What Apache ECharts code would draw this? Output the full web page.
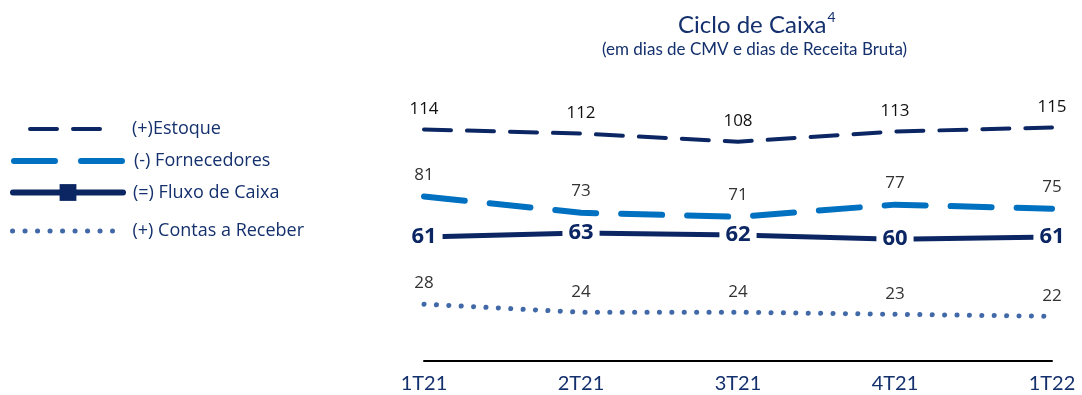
<!DOCTYPE html>
<html>
<head>
<meta charset="utf-8">
<script src="https://cdn.jsdelivr.net/npm/echarts@6/dist/echarts.min.js"></script>
<style>
  html, body { margin: 0; padding: 0; background: #fff; }
  #chart { width: 1082px; height: 395px; }
</style>
</head>
<body>
<div id="chart"></div>
<script>
// Quarterly cash-cycle components (days)
const categories = ['1T21', '2T21', '3T21', '4T21', '1T22'];
const estoque = [114, 112, 108, 113, 115];
const fornecedores = [81, 73, 71, 77, 75];
const fluxoCaixa = [61, 63, 62, 60, 61];
const contasReceber = [28, 24, 24, 23, 22];

const seriesNames = ['(+)Estoque', '(-) Fornecedores', '(=) Fluxo de Caixa', '(+) Contas a Receber'];

const NAVY = '#0B2663';
const BLUE = '#0070C0';
const STEEL = '#4169A8';
const TEXT_NAVY = '#14306D';

const chart = echarts.init(document.getElementById('chart'), null, { renderer: 'canvas' });

const legendText = (pad) => ({
  fontFamily: 'Open Sans', fontSize: 18, color: TEXT_NAVY, padding: [0, 0, 0, pad]
});

chart.setOption({
  animation: false,
  backgroundColor: '#fff',
  title: [
    {
      text: '{t|Ciclo de Caixa}{s|4}',
      left: 678, top: 10, padding: 0,
      textStyle: {
        fontWeight: 'normal',
        rich: {
          t: { fontFamily: 'Lato', fontSize: 24, fontWeight: 'normal', color: TEXT_NAVY, lineHeight: 30 },
          s: { fontFamily: 'Lato', fontSize: 14, fontWeight: 'normal', color: TEXT_NAVY, verticalAlign: 'top', lineHeight: 30, padding: [0, 0, 12, 1] }
        }
      }
    },
    {
      text: '(em dias de CMV e dias de Receita Bruta)',
      left: 602, top: 41, padding: 0,
      textStyle: { fontFamily: 'Lato', fontSize: 17, fontWeight: 'normal', color: TEXT_NAVY }
    }
  ],
  legend: [
    {
      data: [seriesNames[0]], selectedMode: false, orient: 'vertical',
      left: 28, top: 120, padding: 0, itemWidth: 74, itemHeight: 14,
      textStyle: legendText(23),
      itemStyle: { opacity: 0, borderWidth: 0 },
      lineStyle: { color: NAVY, width: 4, type: [27, 16], cap: 'round' }
    },
    {
      data: [seriesNames[1]], selectedMode: false, orient: 'vertical',
      left: 11, top: 152, padding: 0, itemWidth: 108, itemHeight: 14,
      textStyle: legendText(7),
      itemStyle: { opacity: 0, borderWidth: 0 },
      lineStyle: { color: BLUE, width: 6, type: [41, 26], cap: 'round' }
    },
    {
      data: [seriesNames[2]], selectedMode: false, orient: 'vertical',
      left: 10, top: 183.5, padding: 0, itemWidth: 110, itemHeight: 21,
      textStyle: legendText(5),
      itemStyle: { color: NAVY, opacity: 1, borderWidth: 0 },
      lineStyle: { color: NAVY, width: 6, type: 'solid', cap: 'round' }
    },
    {
      data: [seriesNames[3]], selectedMode: false, orient: 'vertical',
      left: 10, top: 222, padding: 0, itemWidth: 100, itemHeight: 14,
      textStyle: legendText(15),
      itemStyle: { opacity: 0, borderWidth: 0 },
      lineStyle: { color: STEEL, width: 5, type: [0.1, 12.4], cap: 'round' }
    }
  ],
  grid: { left: 424, right: 30, top: 97, bottom: 34 },
  xAxis: {
    type: 'category',
    data: categories,
    boundaryGap: false,
    axisLine: { show: true, lineStyle: { color: '#000', width: 2 } },
    axisTick: { show: false },
    axisLabel: { fontFamily: 'Lato', fontSize: 20, color: TEXT_NAVY, margin: 13 },
    splitLine: { show: false }
  },
  yAxis: {
    type: 'value', min: 0, max: 130,
    show: false, splitLine: { show: false }
  },
  series: [
    {
      name: seriesNames[0], type: 'line', data: estoque,
      symbol: 'circle', symbolSize: 0.1, itemStyle: { color: NAVY },
      lineStyle: { color: NAVY, width: 4, type: [27, 16], cap: 'round' },
      label: { show: true, position: 'top', distance: 12, fontFamily: 'Open Sans', fontSize: 17, color: '#111' },
      z: 2
    },
    {
      name: seriesNames[1], type: 'line', data: fornecedores,
      symbol: 'circle', symbolSize: 0.1, itemStyle: { color: BLUE },
      lineStyle: { color: BLUE, width: 6, type: [41, 25], cap: 'round' },
      label: { show: true, position: 'top', distance: 13, fontFamily: 'Open Sans', fontSize: 17, color: '#333' },
      z: 2
    },
    {
      name: seriesNames[3], type: 'line', data: contasReceber,
      symbol: 'circle', symbolSize: 0.1, itemStyle: { color: STEEL },
      lineStyle: { color: STEEL, width: 5, type: [0.1, 12.3], cap: 'round' },
      label: { show: true, position: 'top', distance: 12, fontFamily: 'Open Sans', fontSize: 17, color: '#333' },
      z: 2
    },
    {
      name: seriesNames[2], type: 'line', data: fluxoCaixa,
      symbol: 'rect', symbolSize: 6, itemStyle: { color: NAVY },
      lineStyle: { color: NAVY, width: 5 },
      label: {
        show: true, position: 'inside', fontFamily: 'Open Sans', fontSize: 22, fontWeight: 'bold',
        color: NAVY, backgroundColor: '#fff', padding: [1, 6, 0, 6]
      },
      z: 5
    }
  ]
});
</script>
</body>
</html>
